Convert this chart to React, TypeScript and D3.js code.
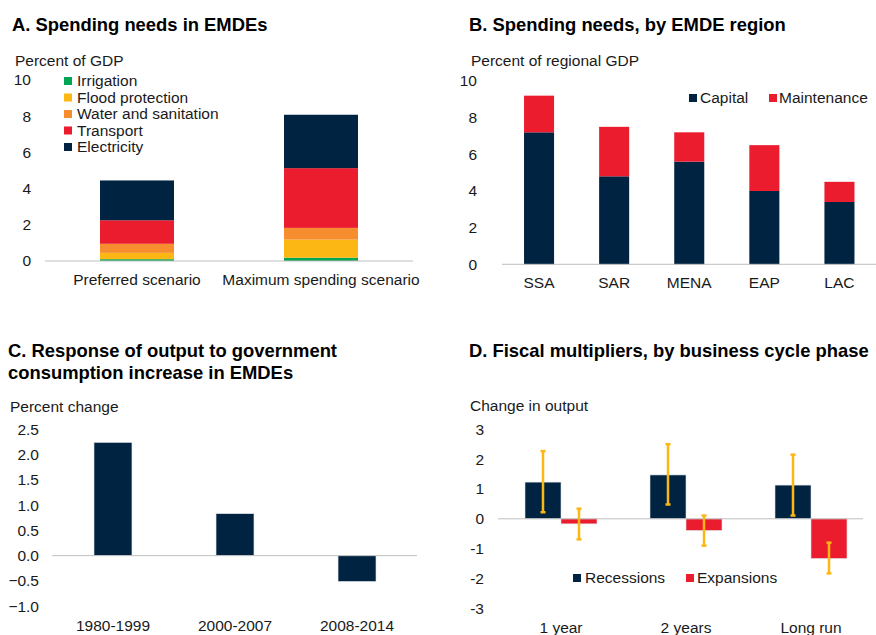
import React from "react";
import * as d3 from "d3";

// Panel A
const aCategories = ["Preferred scenario", "Maximum spending scenario"];
const aSeries = ["Irrigation", "Flood protection", "Water and sanitation", "Transport", "Electricity"];
const aIrrigation = [0.1, 0.18];
const aFlood = [0.35, 1.0];
const aWater = [0.5, 0.65];
const aTransport = [1.3, 3.3];
const aElectricity = [2.2, 2.95];
const aTicks = [0, 2, 4, 6, 8, 10];

// Panel B
const bCategories = ["SSA", "SAR", "MENA", "EAP", "LAC"];
const bCapital = [7.2, 4.8, 5.6, 4.0, 3.4];
const bMaintenance = [2.0, 2.7, 1.6, 2.5, 1.1];
const bTicks = [0, 2, 4, 6, 8, 10];

// Panel C
const cCategories = ["1980-1999", "2000-2007", "2008-2014"];
const cValues = [2.24, 0.83, -0.51];
const cTicks = [2.5, 2.0, 1.5, 1.0, 0.5, 0.0, -0.5, -1.0];

// Panel D
const dCategories = ["1 year", "2 years", "Long run"];
const dRecessions = [1.23, 1.47, 1.13];
const dExpansions = [-0.17, -0.39, -1.33];
const dRecLow = [0.22, 0.48, 0.11];
const dRecHigh = [2.27, 2.5, 2.15];
const dExpLow = [-0.69, -0.9, -1.83];
const dExpHigh = [0.34, 0.11, -0.8];
const dTicks = [3, 2, 1, 0, -1, -2, -3];

const NAVY = "#002341";
const RED = "#EB1C2D";
const ORANGE = "#F68D2E";
const YELLOW = "#FDB714";
const GREEN = "#00A651";
const AXIS = "#BFBFBF";
const FONT = "Liberation Sans, Arial, sans-serif";
const TXT = "#1a1a1a";
const FS = 15.5;
const TFS = 18.4;
const BAR_STROKE = "#dde1e6";

function PanelA() {
  const y = d3.scaleLinear().domain([0, 10]).range([261, 80]);
  const x = d3.scaleBand().domain(aCategories).range([45, 413]).paddingInner(0.598).paddingOuter(0.299);
  const seriesVals = [aIrrigation, aFlood, aWater, aTransport, aElectricity];
  const colors = [GREEN, YELLOW, ORANGE, RED, NAVY];
  const rows = aCategories.map((c, i) => {
    const r: any = { cat: c };
    aSeries.forEach((s, j) => (r[s] = seriesVals[j][i]));
    return r;
  });
  const stacked = d3.stack<any>().keys(aSeries)(rows);
  return (
    <g>
      <text x={12} y={31} fontSize={TFS} fontWeight="bold" fill="#000">A. Spending needs in EMDEs</text>
      <text x={15} y={66} fontSize={FS} fill={TXT}>Percent of GDP</text>
      {aTicks.map((t) => (
        <text key={t} x={31} y={y(t)} dy="0.35em" textAnchor="end" fontSize={FS} fill={TXT}>{t}</text>
      ))}
      {stacked.map((layer, j) => (
        <g key={layer.key} fill={colors[j]}>
          {layer.map((d, i) => (
            <rect key={i} x={x(aCategories[i])!} width={x.bandwidth()} y={y(d[1])} height={y(d[0]) - y(d[1])} />
          ))}
        </g>
      ))}
      <line x1={45} x2={413} y1={y(0)} y2={y(0)} stroke={AXIS} strokeWidth={1} />
      {aCategories.map((c) => (
        <text key={c} x={x(c)! + x.bandwidth() / 2} y={285} textAnchor="middle" fontSize={FS} fill={TXT}>{c}</text>
      ))}
      {aSeries.map((s, j) => (
        <g key={s}>
          <rect x={64} y={81 + j * 16.5 - 4} width={8} height={8} fill={colors[j]} />
          <text x={77} y={81 + j * 16.5} dy="0.35em" fontSize={FS} fill={TXT}>{s}</text>
        </g>
      ))}
    </g>
  );
}

function PanelB() {
  const y = d3.scaleLinear().domain([0, 10]).range([264.3, 81]);
  const x = d3.scaleBand().domain(bCategories).range([501.5, 877]).paddingInner(0.6).paddingOuter(0.3);
  const rows = bCategories.map((c, i) => ({ cat: c, Capital: bCapital[i], Maintenance: bMaintenance[i] }));
  const stacked = d3.stack<any>().keys(["Capital", "Maintenance"])(rows);
  const colors = [NAVY, RED];
  return (
    <g>
      <text x={469} y={31} fontSize={TFS} fontWeight="bold" fill="#000">B. Spending needs, by EMDE region</text>
      <text x={471} y={66} fontSize={FS} fill={TXT}>Percent of regional GDP</text>
      {bTicks.map((t) => (
        <text key={t} x={477} y={y(t)} dy="0.35em" textAnchor="end" fontSize={FS} fill={TXT}>{t}</text>
      ))}
      {stacked.map((layer, j) => (
        <g key={layer.key} fill={colors[j]}>
          {layer.map((d, i) => (
            <rect key={i} x={x(bCategories[i])!} width={x.bandwidth()} y={y(d[1])} height={y(d[0]) - y(d[1])} />
          ))}
        </g>
      ))}
      <line x1={502} x2={876} y1={y(0)} y2={y(0)} stroke={AXIS} strokeWidth={1} />
      {bCategories.map((c) => (
        <text key={c} x={x(c)! + x.bandwidth() / 2} y={288} textAnchor="middle" fontSize={FS} fill={TXT}>{c}</text>
      ))}
      <rect x={689} y={94} width={8} height={8} fill={NAVY} />
      <text x={700} y={98} dy="0.35em" fontSize={FS} fill={TXT}>Capital</text>
      <rect x={769} y={94} width={8} height={8} fill={RED} />
      <text x={779} y={98} dy="0.35em" fontSize={FS} fill={TXT}>Maintenance</text>
    </g>
  );
}

function PanelC() {
  const y = d3.scaleLinear().domain([-1, 2.5]).range([606.2, 429.3]);
  const x = d3.scaleBand().domain(cCategories).range([57.4, 412.6]).paddingInner(0.689).paddingOuter(0.3);
  return (
    <g>
      <text x={8} y={357} fontSize={TFS} fontWeight="bold" fill="#000">C. Response of output to government</text>
      <text x={8} y={379} fontSize={TFS} fontWeight="bold" fill="#000">consumption increase in EMDEs</text>
      <text x={10} y={412} fontSize={FS} fill={TXT}>Percent change</text>
      {cTicks.map((t) => (
        <text key={t} x={39} y={y(t)} dy="0.35em" textAnchor="end" fontSize={FS} fill={TXT}>{d3.format(".1f")(t)}</text>
      ))}
      {cValues.map((v, i) => (
        <rect key={i} x={x(cCategories[i])!} width={x.bandwidth()} y={y(Math.max(0, v))} height={Math.abs(y(v) - y(0))} fill={NAVY} stroke={BAR_STROKE} strokeWidth={0.6} />
      ))}
      <line x1={52} x2={417} y1={y(0)} y2={y(0)} stroke={AXIS} strokeWidth={1} />
      {cCategories.map((c) => (
        <text key={c} x={x(c)! + x.bandwidth() / 2} y={631} textAnchor="middle" fontSize={FS} fill={TXT}>{c}</text>
      ))}
    </g>
  );
}

function PanelD() {
  const y = d3.scaleLinear().domain([-3, 3]).range([608.3, 429.3]);
  const x0 = d3.scaleBand().domain(dCategories).range([500, 872]).paddingInner(0.424).paddingOuter(0.2);
  const x1 = d3.scaleBand().domain(["Recessions", "Expansions"]).range([0, x0.bandwidth()]);
  const series = [
    { key: "Recessions", vals: dRecessions, lo: dRecLow, hi: dRecHigh, color: NAVY },
    { key: "Expansions", vals: dExpansions, lo: dExpLow, hi: dExpHigh, color: RED },
  ];
  return (
    <g>
      <text x={469} y={357} fontSize={TFS} fontWeight="bold" fill="#000">D. Fiscal multipliers, by business cycle phase</text>
      <text x={470} y={411} fontSize={FS} fill={TXT}>Change in output</text>
      {dTicks.map((t) => (
        <text key={t} x={484} y={y(t)} dy="0.35em" textAnchor="end" fontSize={FS} fill={TXT}>{t}</text>
      ))}
      {series.map((s) => (
        <g key={s.key}>
          {s.vals.map((v, i) => (
            <rect key={i} x={x0(dCategories[i])! + x1(s.key)!} width={x1.bandwidth()} y={y(Math.max(0, v))} height={Math.abs(y(v) - y(0))} fill={s.color} stroke={BAR_STROKE} strokeWidth={0.6} />
          ))}
        </g>
      ))}
      <line x1={498} x2={863} y1={y(0)} y2={y(0)} stroke={AXIS} strokeWidth={1} />
      {series.map((s) => (
        <g key={s.key + "err"} stroke={YELLOW} strokeWidth={2.5}>
          {s.vals.map((_, i) => {
            const cx = x0(dCategories[i])! + x1(s.key)! + x1.bandwidth() / 2;
            return (
              <g key={i}>
                <line x1={cx} x2={cx} y1={y(s.hi[i])} y2={y(s.lo[i])} />
                <line x1={cx - 2.5} x2={cx + 2.5} y1={y(s.hi[i])} y2={y(s.hi[i])} />
                <line x1={cx - 2.5} x2={cx + 2.5} y1={y(s.lo[i])} y2={y(s.lo[i])} />
              </g>
            );
          })}
        </g>
      ))}
      {dCategories.map((c) => (
        <text key={c} x={x0(c)! + x0.bandwidth() / 2} y={633} textAnchor="middle" fontSize={FS} fill={TXT}>{c}</text>
      ))}
      <rect x={573} y={574} width={8} height={8} fill={NAVY} />
      <text x={585} y={578} dy="0.35em" fontSize={FS} fill={TXT}>Recessions</text>
      <rect x={686} y={574} width={8} height={8} fill={RED} />
      <text x={697} y={578} dy="0.35em" fontSize={FS} fill={TXT}>Expansions</text>
    </g>
  );
}

export default function App() {
  return (
    <svg width={876} height={635} style={{ position: "absolute", left: 0, top: 0, background: "#fff" }} fontFamily={FONT}>
      <rect width={876} height={635} fill="#fff" />
      <PanelA />
      <PanelB />
      <PanelC />
      <PanelD />
    </svg>
  );
}
